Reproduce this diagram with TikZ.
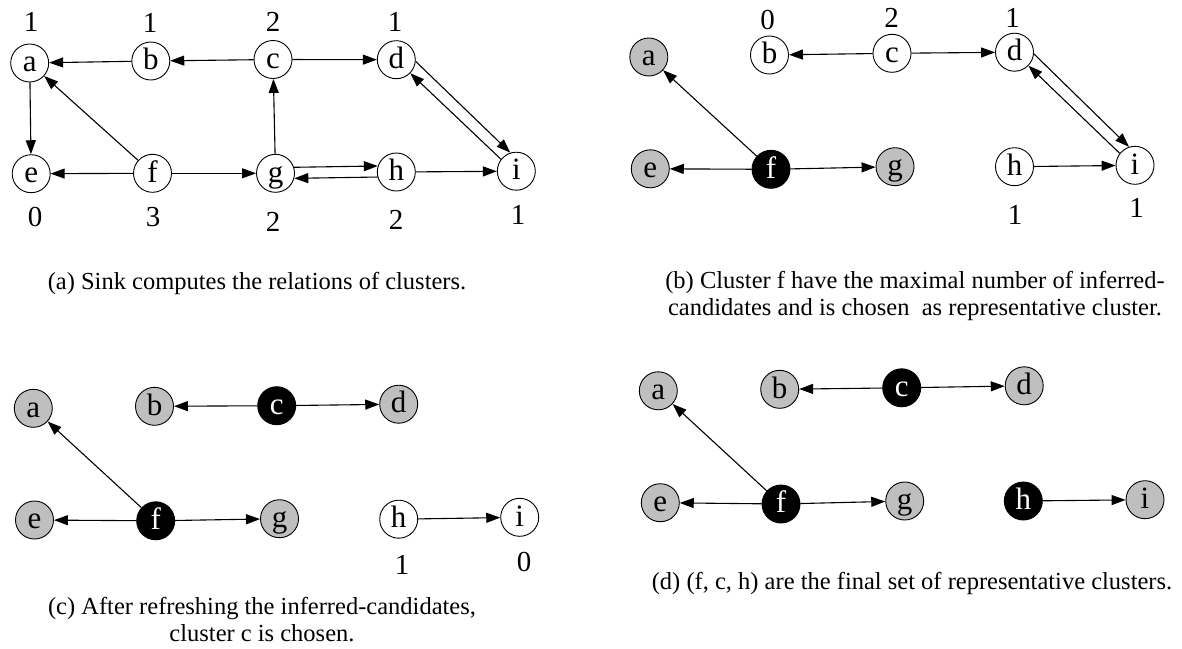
\documentclass[tikz,border=0pt]{standalone}
\usepackage{fontspec}
\setmainfont{Liberation Serif}
\usetikzlibrary{arrows.meta}
\begin{document}
\begin{tikzpicture}[x=1pt,y=-1pt,
  vtx/.style={circle,draw,line width=0.9pt,minimum size=38pt,inner sep=0pt,
    text height=21pt,text depth=3.6pt,font=\fontsize{31}{31}\selectfont},
  plain/.style={vtx,fill=white},
  grey/.style={vtx,fill=black!25},
  rep/.style={vtx,fill=black,text=white},
  num/.style={inner sep=0pt,font=\fontsize{29}{29}\selectfont},
  arr/.style={-{Triangle[length=14pt,width=10pt]},line width=1.1pt},
  captext/.style={inner sep=0pt,align=center,font=\fontsize{24.5}{27}\selectfont}]
\useasboundingbox (0,0) rectangle (1182,648);

% ---------- (a) relations of all clusters ----------
\begin{scope}[name prefix=A-]
\node[plain] (a) at (29.7,63) {a};
\node[plain] (b) at (150.8,61) {b};
\node[plain] (c) at (273,59.5) {c};
\node[plain] (d) at (396.3,59.7) {d};
\node[plain] (e) at (31.2,173.7) {e};
\node[plain] (f) at (152.5,173.3) {f};
\node[plain] (g) at (275.5,173.3) {g};
\node[plain] (h) at (396.3,172) {h};
\node[plain] (i) at (516.3,171.2) {i};
\node[num] (na) at (31,21.7) {1};
\node[num] (nb) at (150,23) {1};
\node[num] (nc) at (273,21.7) {2};
\node[num] (nd) at (395,21.7) {1};
\node[num] (ne) at (35,217) {0};
\node[num] (nf) at (153,217) {3};
\node[num] (ng) at (273,222) {2};
\node[num] (nh) at (396,220) {2};
\node[num] (ni) at (518,215) {1};
\draw[arr] (b) -- (a);
\draw[arr] (c) -- (b);
\draw[arr] (c) -- (d);
\draw[arr] (a) -- (e);
\draw[arr] (f) -- (a);
\draw[arr] (f) -- (e);
\draw[arr] (f) -- (g);
\draw[arr] (g) -- (c);
\draw[arr] (g.18) -- (h.162);
\draw[arr] (h.-165) -- (g.-15);
\draw[arr] (h) -- (i);
\draw[arr] (d.-5) -- (i.108);
\draw[arr] (i.142) -- (d.-44);
\node[captext] (capA) at (257,283) {(a) Sink computes the relations of clusters.};
\end{scope}

% ---------- (b) f chosen ----------
\begin{scope}[name prefix=B-]
\node[grey] (a) at (648.8,57) {a};
\node[plain] (b) at (769.5,55) {b};
\node[plain] (c) at (892,53.3) {c};
\node[plain] (d) at (1014.5,52.2) {d};
\node[grey] (e) at (650.3,168.8) {e};
\node[rep] (f) at (771,169.3) {f};
\node[grey] (g) at (895,166.7) {g};
\node[plain] (h) at (1014.5,166.7) {h};
\node[plain] (i) at (1135,165.3) {i};
\node[num] (nb) at (767.7,20) {0};
\node[num] (nc) at (891.7,18.3) {2};
\node[num] (nd) at (1012.7,18.3) {1};
\node[num] (nh) at (1015,215) {1};
\node[num] (ni) at (1136.7,208) {1};
\draw[arr] (c) -- (b);
\draw[arr] (c) -- (d);
\draw[arr] (f) -- (a);
\draw[arr] (f) -- (e);
\draw[arr] (f) -- (g);
\draw[arr] (h) -- (i);
\draw[arr] (d.-5) -- (i.108);
\draw[arr] (i.142) -- (d.-44);
\node[captext] (capB) at (915,296) {(b) Cluster f have the maximal number of inferred-\\candidates and is chosen \ as representative cluster.};
\end{scope}

% ---------- (c) c chosen ----------
\begin{scope}[name prefix=C-]
\node[grey] (a) at (33.3,408.3) {a};
\node[grey] (b) at (154.5,406.3) {b};
\node[rep] (c) at (276.7,405.7) {c};
\node[grey] (d) at (398.7,404.2) {d};
\node[grey] (e) at (34.5,520) {e};
\node[rep] (f) at (155.7,520.8) {f};
\node[grey] (g) at (279.5,518.7) {g};
\node[plain] (h) at (398.7,519.2) {h};
\node[plain] (i) at (519.7,517.3) {i};
\node[num] (nh) at (402,565) {1};
\node[num] (ni) at (524,562) {0};
\draw[arr] (c) -- (b);
\draw[arr] (c) -- (d);
\draw[arr] (f) -- (a);
\draw[arr] (f) -- (e);
\draw[arr] (f) -- (g);
\draw[arr] (h) -- (i);
\node[captext] (capC) at (262,620) {(c) After refreshing the inferred-candidates,\\cluster c is chosen.};
\end{scope}

% ---------- (d) final representatives ----------
\begin{scope}[name prefix=D-]
\node[grey] (a) at (658.3,390.8) {a};
\node[grey] (b) at (779.7,389.3) {b};
\node[rep] (c) at (901.7,387.8) {c};
\node[grey] (d) at (1024.2,385.8) {d};
\node[grey] (e) at (660.3,502.7) {e};
\node[rep] (f) at (781,504) {f};
\node[grey] (g) at (904.7,501) {g};
\node[rep] (h) at (1023.3,501) {h};
\node[grey] (i) at (1145,499.7) {i};
\draw[arr] (c) -- (b);
\draw[arr] (c) -- (d);
\draw[arr] (f) -- (a);
\draw[arr] (f) -- (e);
\draw[arr] (f) -- (g);
\draw[arr] (h) -- (i);
\node[captext] (capD) at (912,583) {(d) (f, c, h) are the final set of representative clusters.};
\end{scope}
\end{tikzpicture}
\end{document}
